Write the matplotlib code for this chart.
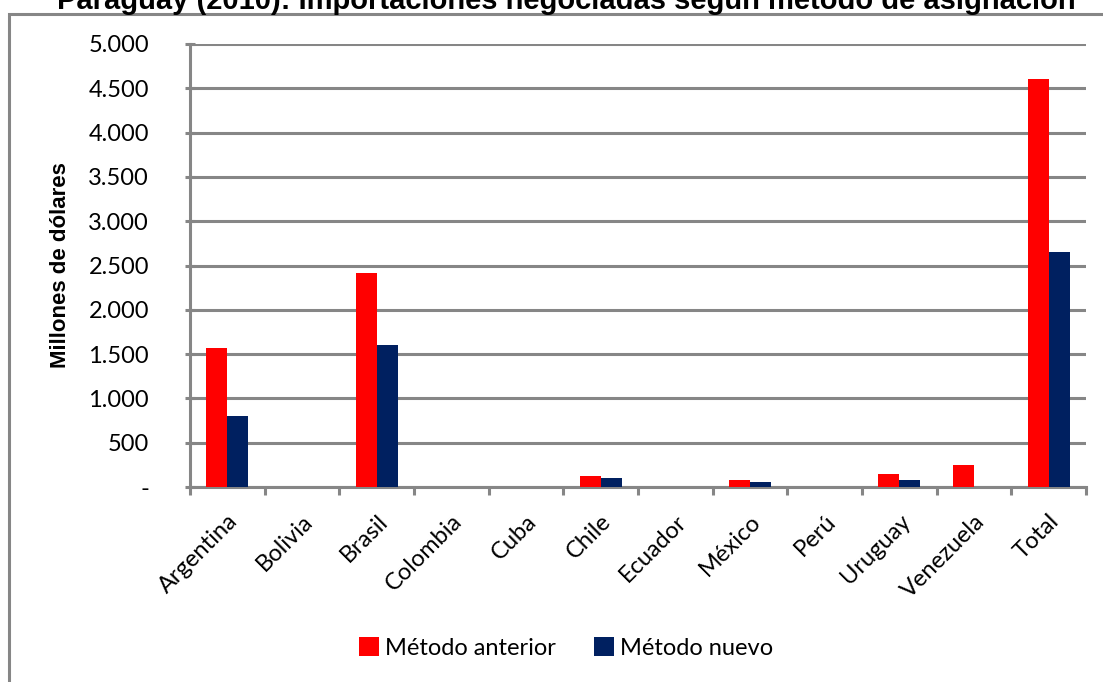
import matplotlib
matplotlib.use("Agg")
import matplotlib.pyplot as plt
import numpy as np
from matplotlib.patches import Rectangle
from matplotlib.ticker import FixedLocator, FuncFormatter

categories = ["Argentina", "Bolivia", "Brasil", "Colombia", "Cuba", "Chile",
              "Ecuador", "México", "Perú", "Uruguay", "Venezuela", "Total"]
metodo_anterior = [1570, 0, 2410, 0, 0, 124, 0, 79, 0, 150, 248, 4605]
metodo_nuevo = [801, 0, 1600, 0, 0, 102, 0, 56, 0, 79, 0, 2650]
series_names = ["Método anterior", "Método nuevo"]
title = "Paraguay (2010): Importaciones negociadas según método de asignación"
ylabel = "Millones de dólares"

W, H = 1103, 682
fig = plt.figure(figsize=(W / 100, H / 100), dpi=100)

GRAY = "#868686"
RED = "#FF0000"
NAVY = "#002060"
CAL = "Lato"

# outer chart frame
fig.patches.append(Rectangle((9 / W, -0.1), 1.2, 1 - 14 / H + 0.1,
                             transform=fig.transFigure, fill=False,
                             edgecolor=GRAY, linewidth=2.2, zorder=0))

fig.text(566 / W, 1 - 9 / H, title, ha="center", va="baseline",
         fontsize=21, fontweight="bold", family="Liberation Sans")

left, right, top, bottom = 190, 1086, 44, 487
ax = fig.add_axes([left / W, 1 - bottom / H, (right - left) / W, (bottom - top) / H])

x = np.arange(len(categories))
bw = 0.28
ax.bar(x - bw / 2, metodo_anterior, bw, color=RED, label=series_names[0], zorder=3)
ax.bar(x + bw / 2, metodo_nuevo, bw, color=NAVY, label=series_names[1], zorder=3)

ax.set_xlim(-0.5, len(categories) - 0.5)
ax.set_ylim(0, 5000)
yt = np.arange(0, 5001, 500)
ax.set_yticks(yt)
ax.yaxis.set_major_formatter(FuncFormatter(
    lambda v, p: "-" if v == 0 else f"{int(v):,}".replace(",", ".")))
ax.grid(axis="y", color=GRAY, linewidth=2.2, zorder=1)
ax.set_axisbelow(True)

for s in ["top", "right"]:
    ax.spines[s].set_visible(False)
for s in ["left", "bottom"]:
    ax.spines[s].set_color(GRAY)
    ax.spines[s].set_linewidth(2.2)

ax.set_xticks(x)
ax.set_xticklabels(categories, rotation=45, ha="right", rotation_mode="anchor",
                   fontsize=17, family=CAL)
ax.xaxis.set_minor_locator(FixedLocator(np.arange(-0.5, len(categories), 1.0)))
ax.tick_params(axis="x", which="major", length=0, pad=17)
ax.tick_params(axis="x", which="minor", length=6, width=2.2, color=GRAY, direction="out")
ax.tick_params(axis="y", length=7, width=2.2, color=GRAY, direction="inout",
               labelsize=17, pad=26)
for t in ax.get_yticklabels():
    t.set_family(CAL)

ax.set_ylabel(ylabel, fontsize=16, fontweight="bold", family="Liberation Sans")
ax.yaxis.set_label_coords((61 - left) / (right - left), 0.5)
ax.yaxis.label.set_va("center")

fig.legend(loc="center", bbox_to_anchor=(566 / W, 1 - 648 / H), ncol=2, frameon=False,
           prop={"family": CAL, "size": 17}, handlelength=0.85, handleheight=0.85,
           handletextpad=0.25, columnspacing=1.6)

fig.savefig("out.png", dpi=100)
